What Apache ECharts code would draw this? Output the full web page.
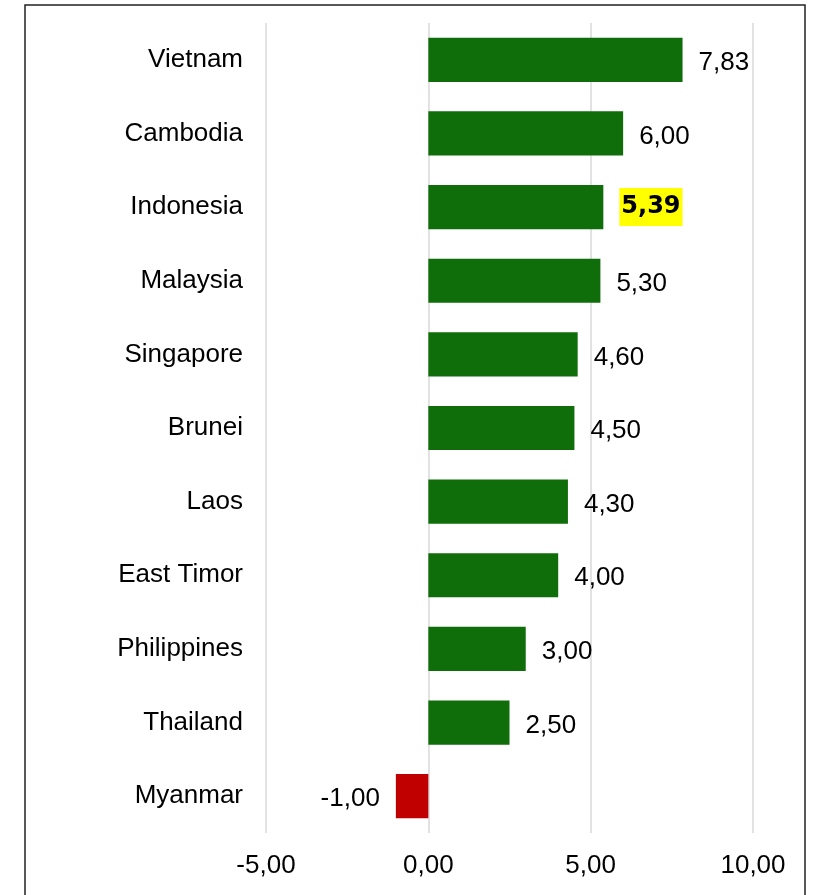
<!DOCTYPE html>
<html>
<head>
<meta charset="utf-8">
<script src="https://cdn.jsdelivr.net/npm/echarts@6/dist/echarts.min.js"></script>
<style>
  html, body { margin: 0; padding: 0; background: #fff; }
  #chart { width: 815px; height: 895px; }
</style>
</head>
<body>
<div id="chart"></div>
<script>
// data
var countries = ['Vietnam', 'Cambodia', 'Indonesia', 'Malaysia', 'Singapore', 'Brunei',
  'Laos', 'East Timor', 'Philippines', 'Thailand', 'Myanmar'];
var growth = [7.83, 6.00, 5.39, 5.30, 4.60, 4.50, 4.30, 4.00, 3.00, 2.50, -1.00];
var highlight = 'Indonesia';

var green = '#0f6e0a';
var red = '#c00000';
var font = 'Liberation Sans, Arial, sans-serif';

function fmt(v) {
  return v.toFixed(2).replace('.', ',');
}

var barData = growth.map(function (v, i) {
  var item = {
    value: v,
    itemStyle: { color: v < 0 ? red : green },
    label: { position: v < 0 ? 'left' : 'right' }
  };
  if (countries[i] == highlight) {
    // highlighted value, heavy font on yellow
    item.label.fontWeight = 'bold';
    item.label.fontFamily = 'DejaVu Sans';
    item.label.fontSize = 24;
    item.label.lineHeight = 28;
    item.label.backgroundColor = '#ffff00';
    item.label.padding = [6, 2, 4, 2];
    item.label.distance = 16;
    item.label.offset = [0, 0];
  }
  return item;
});

var chart = echarts.init(document.getElementById('chart'));

var option = {
  animation: false,
  backgroundColor: '#fff',
  grid: {
    left: 266,
    right: 62,
    top: 23,
    bottom: 62
  },
  xAxis: {
    type: 'value',
    min: -5,
    max: 10,
    interval: 5,
    axisLine: { show: false },
    axisTick: { show: false },
    splitLine: { lineStyle: { color: '#d9d9d9', width: 1.5 } },
    axisLabel: {
      formatter: fmt,
      color: '#000',
      fontSize: 26,
      fontFamily: font,
      margin: 20
    }
  },
  yAxis: {
    type: 'category',
    data: countries,
    inverse: true,
    axisLine: { show: false, onZero: false },
    axisTick: { show: false },
    axisLabel: {
      color: '#000',
      fontSize: 26,
      fontFamily: font,
      margin: 23
    }
  },
  series: [{
    type: 'bar',
    data: barData,
    barCategoryGap: '40%',
    label: {
      show: true,
      distance: 16,
      offset: [0, 3],
      color: '#000',
      fontSize: 26,
      fontFamily: font,
      formatter: function (p) {
        return fmt(p.value);
      }
    }
  }],
  graphic: [{
    type: 'rect',
    shape: { x: 25, y: 5, width: 780, height: 900 },
    style: { fill: 'none', stroke: '#222', lineWidth: 1.5 },
    silent: true
  }]
};

chart.setOption(option);
</script>
</body>
</html>
